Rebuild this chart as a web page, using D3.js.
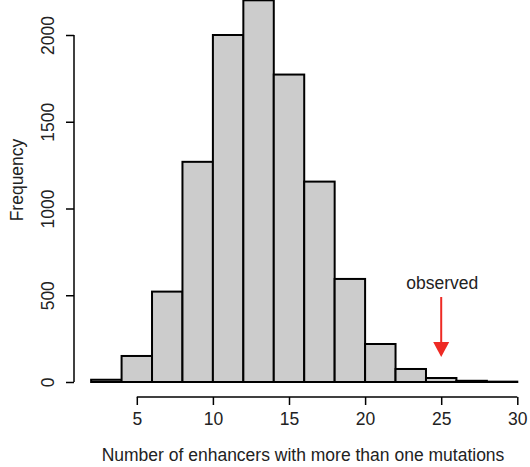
<!DOCTYPE html>
<html>
<head>
<meta charset="utf-8">
<script src="https://cdn.jsdelivr.net/npm/d3@7"></script>
<style>
  body { margin: 0; background: #fff; }
  text { font-family: "Liberation Sans", Arial, sans-serif; }
</style>
</head>
<body>
<div id="chart"></div>
<script>
// histogram bins (left edge) and counts
const binStarts = [2, 4, 6, 8, 10, 12, 14, 16, 18, 20, 22, 24, 26, 28];
const binWidth = 2;
const counts = [13, 150, 521, 1269, 2000, 2200, 1772, 1155, 594, 219, 75, 23, 7, 2];
const xTicks = [5, 10, 15, 20, 25, 30];
const yTicks = [0, 500, 1000, 1500, 2000];
const observed = 25;

const width = 530, height = 467;
const fontSize = "17.5px";

const svg = d3.select("#chart")
              .append("svg")
              .attr("width", width)
              .attr("height", height);

const x = d3.scaleLinear()
            .domain([0, 30])
            .range([60.7, 517.3]);

const y = d3.scaleLinear()
            .domain([0, 2000])
            .range([382, 35]);

// bars
svg.selectAll("rect.bar")
   .data(binStarts)
   .enter()
   .append("rect")
   .attr("class", "bar")
   .attr("x", d => x(d))
   .attr("width", d => x(d + binWidth) - x(d))
   .attr("y", (d, i) => y(counts[i]))
   .attr("height", (d, i) => y(0) - y(counts[i]))
   .attr("fill", "#cccccc")
   .attr("stroke", "#000")
   .attr("stroke-width", 2);

// x axis
const xAxis = svg.append("g")
                 .attr("transform", "translate(0,397)")
                 .call(d3.axisBottom(x).tickValues(xTicks).tickSize(8).tickPadding(8).tickSizeOuter(0));
xAxis.select(".domain").attr("stroke-width", 1.5).attr("d", `M${x(5)},0H${x(30)}`);
xAxis.selectAll(".tick line").attr("stroke-width", 1.5);
xAxis.selectAll("text").style("font-size", fontSize).attr("fill", "#222");

// y axis
const yAxis = svg.append("g")
                 .attr("transform", "translate(74,0)")
                 .call(d3.axisLeft(y).tickValues(yTicks).tickFormat(d3.format("d")).tickSize(8).tickSizeOuter(0));
yAxis.select(".domain").attr("stroke-width", 1.5).attr("d", `M0,${y(0)}V${y(2000)}`);
yAxis.selectAll(".tick line").attr("stroke-width", 1.5);
yAxis.selectAll("text")
     .style("font-size", fontSize)
     .attr("fill", "#222")
     .attr("x", 0).attr("dy", null)
     .attr("text-anchor", "middle")
     .attr("transform", "translate(-20,0) rotate(-90)")
     .attr("y", 0)
     .attr("dominant-baseline", "auto");

// axis titles
svg.append("text")
   .attr("x", 303)
   .attr("y", 461)
   .attr("text-anchor", "middle")
   .style("font-size", fontSize)
   .attr("fill", "#222")
   .text("Number of enhancers with more than one mutations");

svg.append("text")
   .attr("transform", "translate(23,180) rotate(-90)")
   .attr("text-anchor", "middle")
   .style("font-size", fontSize)
   .attr("fill", "#222")
   .text("Frequency");

// observed arrow
svg.append("line")
   .attr("x1", x(observed)).attr("x2", x(observed))
   .attr("y1", 297).attr("y2", 345)
   .attr("stroke", "#ee2a24")
   .attr("stroke-width", 2);
svg.append("path")
   .attr("d", `M${x(observed) - 8},342 L${x(observed) + 8},342 L${x(observed)},357 Z`)
   .attr("fill", "#ee2a24");
svg.append("text")
   .attr("x", x(observed) + 1)
   .attr("y", 289)
   .attr("text-anchor", "middle")
   .style("font-size", fontSize)
   .attr("fill", "#222")
   .text("observed");
</script>
</body>
</html>
